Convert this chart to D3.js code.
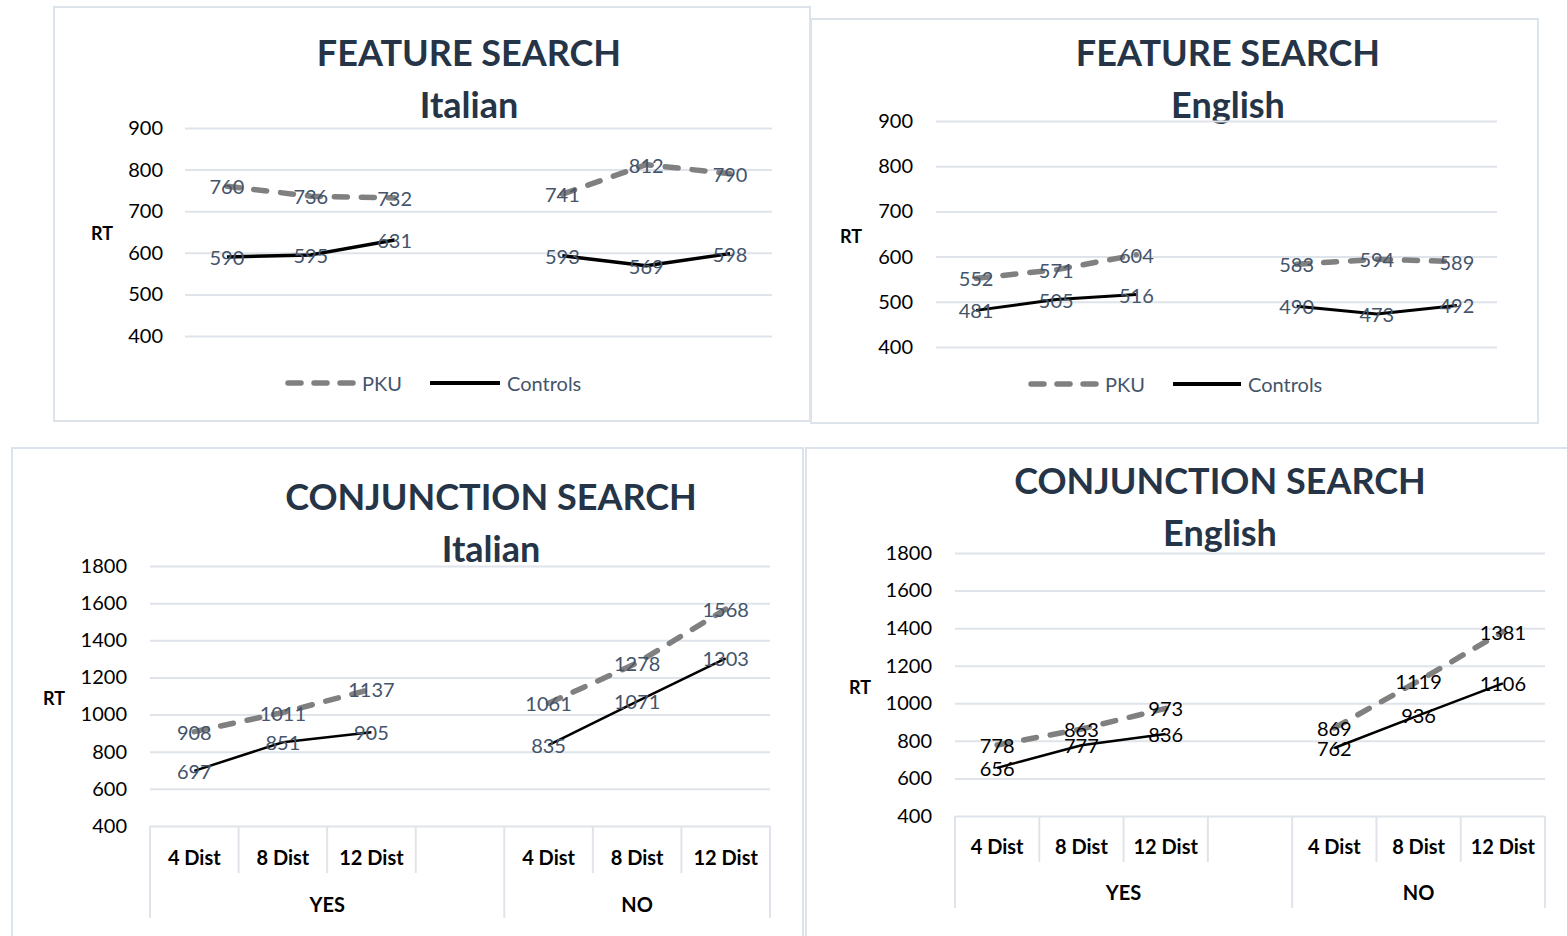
<!DOCTYPE html>
<html>
<head>
<meta charset="utf-8">
<script src="https://cdn.jsdelivr.net/npm/d3@7"></script>
<style>
  html, body { margin: 0; padding: 0; background: #fff; }
  svg { display: block; font-family: Lato, "Open Sans", sans-serif; }
</style>
</head>
<body>
<svg id="chart" width="1567" height="936"></svg>
<script>
// Response times (ms) per condition; null marks the spacer between YES and NO
const categories = ["4 Dist", "8 Dist", "12 Dist", "", "4 Dist", "8 Dist", "12 Dist"];
const groups = [{ name: "YES", from: 0, to: 4 }, { name: "NO", from: 4, to: 7 }];

const featureItalianPKU      = [760, 736, 732, null, 741, 812, 790];
const featureItalianControls = [590, 595, 631, null, 593, 569, 598];
const featureEnglishPKU      = [552, 571, 604, null, 583, 594, 589];
const featureEnglishControls = [481, 505, 516, null, 490, 473, 492];
const conjItalianPKU         = [908, 1011, 1137, null, 1061, 1278, 1568];
const conjItalianControls    = [697, 851, 905, null, 835, 1071, 1303];
const conjEnglishPKU         = [778, 863, 973, null, 869, 1119, 1381];
const conjEnglishControls    = [656, 777, 836, null, 762, 936, 1106];

const featureTicks = [400, 500, 600, 700, 800, 900];
const conjTicks = [400, 600, 800, 1000, 1200, 1400, 1600, 1800];
const seriesNames = ["PKU", "Controls"];

const svg = d3.select("#chart");
const GRID = "#dfe4ea", BORDER = "#dde3ea", SLATE = "#44546a", TITLE = "#253547";
const PKU_GRAY = "#808080";

const panels = [
  { title: ["FEATURE SEARCH", "Italian"], pku: featureItalianPKU, ctl: featureItalianControls,
    ticks: featureTicks, box: [54, 7, 810, 421], titleX: 469, titleY: [66, 118], titleSize: 36,
    x: [185, 772], y: [336, 128], tickX: 163, rt: [102, 233], labelColor: SLATE,
    ctlWidth: 3.5, legend: { y: 383, dash: [285, 357], pkuText: 362, line: [430, 500], ctlText: 507 } },
  { title: ["FEATURE SEARCH", "English"], pku: featureEnglishPKU, ctl: featureEnglishControls,
    ticks: featureTicks, box: [811, 19, 1538, 423], titleX: 1228, titleY: [66, 118], titleSize: 36,
    x: [936, 1497], y: [347, 121], tickX: 913, rt: [851, 236], labelColor: SLATE,
    ctlWidth: 3, legend: { y: 384, dash: [1028, 1099], pkuText: 1105, line: [1173, 1241], ctlText: 1248 } },
  { title: ["CONJUNCTION SEARCH", "Italian"], pku: conjItalianPKU, ctl: conjItalianControls,
    ticks: conjTicks, box: [12, 448, 803, 960], titleX: 491, titleY: [510, 562], titleSize: 36,
    x: [150, 770], y: [826, 566], tickX: 127, rt: [54, 698], labelColor: SLATE,
    ctlWidth: 2.5, cat: { labelY: 857, sepY: 873, groupSepY: 918, groupY: 904 } },
  { title: ["CONJUNCTION SEARCH", "English"], pku: conjEnglishPKU, ctl: conjEnglishControls,
    ticks: conjTicks, box: [806, 448, 1580, 960], titleX: 1220, titleY: [494, 546], titleSize: 36,
    x: [955, 1545], y: [816, 553], tickX: 932, rt: [860, 687], labelColor: "#000",
    ctlWidth: 2.5, cat: { labelY: 846, sepY: 862, groupSepY: 908, groupY: 892 } }
];

function drawPanel(p) {
  const g = svg.append("g");
  const [x0, y0, x1, y1] = p.box;
  g.append("rect").attr("x", x0).attr("y", y0).attr("width", x1 - x0).attr("height", y1 - y0)
    .attr("fill", "#fff").attr("stroke", BORDER).attr("stroke-width", 2);

  // Title
  p.title.forEach((t, i) => {
    g.append("text").attr("x", p.titleX).attr("y", p.titleY[i])
      .attr("text-anchor", "middle").attr("font-weight", 700).attr("font-size", p.titleSize)
      .attr("fill", TITLE).text(t);
  });

  const x = d3.scaleBand().domain(d3.range(categories.length)).range(p.x).padding(0);
  const y = d3.scaleLinear().domain(d3.extent(p.ticks)).range(p.y);

  // Gridlines + value axis labels
  const yAxis = d3.axisLeft(y).tickValues(p.ticks).tickFormat(d3.format("d"))
    .tickSize(-(p.x[1] - p.x[0])).tickPadding(0);
  const ya = g.append("g").attr("transform", `translate(${p.x[0]},0)`).call(yAxis);
  ya.select(".domain").remove();
  ya.selectAll(".tick line").attr("stroke", GRID).attr("stroke-width", 2);
  ya.selectAll(".tick text").attr("x", p.tickX - p.x[0]).attr("font-size", 20)
    .attr("fill", "#000").attr("font-family", "Lato, sans-serif");

  g.append("text").attr("x", p.rt[0]).attr("y", p.rt[1]).attr("text-anchor", "middle")
    .attr("dominant-baseline", "central").attr("font-weight", 700).attr("font-size", 18)
    .attr("fill", "#000").text("RT");

  // Two-level category axis
  if (p.cat) {
    const c = p.cat;
    const yb = p.y[0];
    const edges = d3.range(categories.length + 1).map(i => i < categories.length ? x(i) : p.x[1]);
    edges.forEach((ex, i) => {
      const isGroupEdge = groups.some(gr => gr.from === i || gr.to === i);
      g.append("line").attr("x1", ex).attr("x2", ex).attr("y1", yb)
        .attr("y2", isGroupEdge ? c.groupSepY : c.sepY)
        .attr("stroke", GRID).attr("stroke-width", 2);
    });
    categories.forEach((name, i) => {
      g.append("text").attr("x", x(i) + x.bandwidth() / 2).attr("y", c.labelY)
        .attr("text-anchor", "middle").attr("dominant-baseline", "central")
        .attr("font-weight", 700).attr("font-size", 20).attr("fill", "#000").text(name);
    });
    groups.forEach(gr => {
      const gx = (edges[gr.from] + edges[gr.to]) / 2;
      g.append("text").attr("x", gx).attr("y", c.groupY).attr("text-anchor", "middle")
        .attr("dominant-baseline", "central").attr("font-weight", 700).attr("font-size", 20)
        .attr("fill", "#000").text(gr.name);
    });
  }

  const cx = i => x(i) + x.bandwidth() / 2;
  const line = d3.line().defined(d => d != null).x((d, i) => cx(i)).y(d => y(d));

  g.append("path").datum(p.pku).attr("d", line).attr("fill", "none")
    .attr("stroke", PKU_GRAY).attr("stroke-width", 5.5).attr("stroke-linecap", "round")
    .attr("stroke-dasharray", "13,14");
  g.append("path").datum(p.ctl).attr("d", line).attr("fill", "none")
    .attr("stroke", "#000").attr("stroke-width", p.ctlWidth).attr("stroke-linejoin", "round");

  // Data labels centred on the points
  [p.pku, p.ctl].forEach(series => {
    series.forEach((v, i) => {
      if (v == null) return;
      g.append("text").attr("x", cx(i)).attr("y", y(v)).attr("text-anchor", "middle")
        .attr("dominant-baseline", "central").attr("font-size", 20)
        .attr("fill", p.labelColor).text(v);
    });
  });

  // Legend
  if (p.legend) {
    const L = p.legend;
    g.append("line").attr("x1", L.dash[0] + 3).attr("x2", L.dash[1] - 3).attr("y1", L.y).attr("y2", L.y)
      .attr("stroke", PKU_GRAY).attr("stroke-width", 5.5).attr("stroke-linecap", "round")
      .attr("stroke-dasharray", "13,13");
    g.append("text").attr("x", L.pkuText).attr("y", L.y).attr("dominant-baseline", "central")
      .attr("font-size", 20).attr("fill", SLATE).text(seriesNames[0]);
    g.append("line").attr("x1", L.line[0]).attr("x2", L.line[1]).attr("y1", L.y).attr("y2", L.y)
      .attr("stroke", "#000").attr("stroke-width", 4);
    g.append("text").attr("x", L.ctlText).attr("y", L.y).attr("dominant-baseline", "central")
      .attr("font-size", 20).attr("fill", SLATE).text(seriesNames[1]);
  }
}

panels.forEach(drawPanel);
</script>
</body>
</html>
